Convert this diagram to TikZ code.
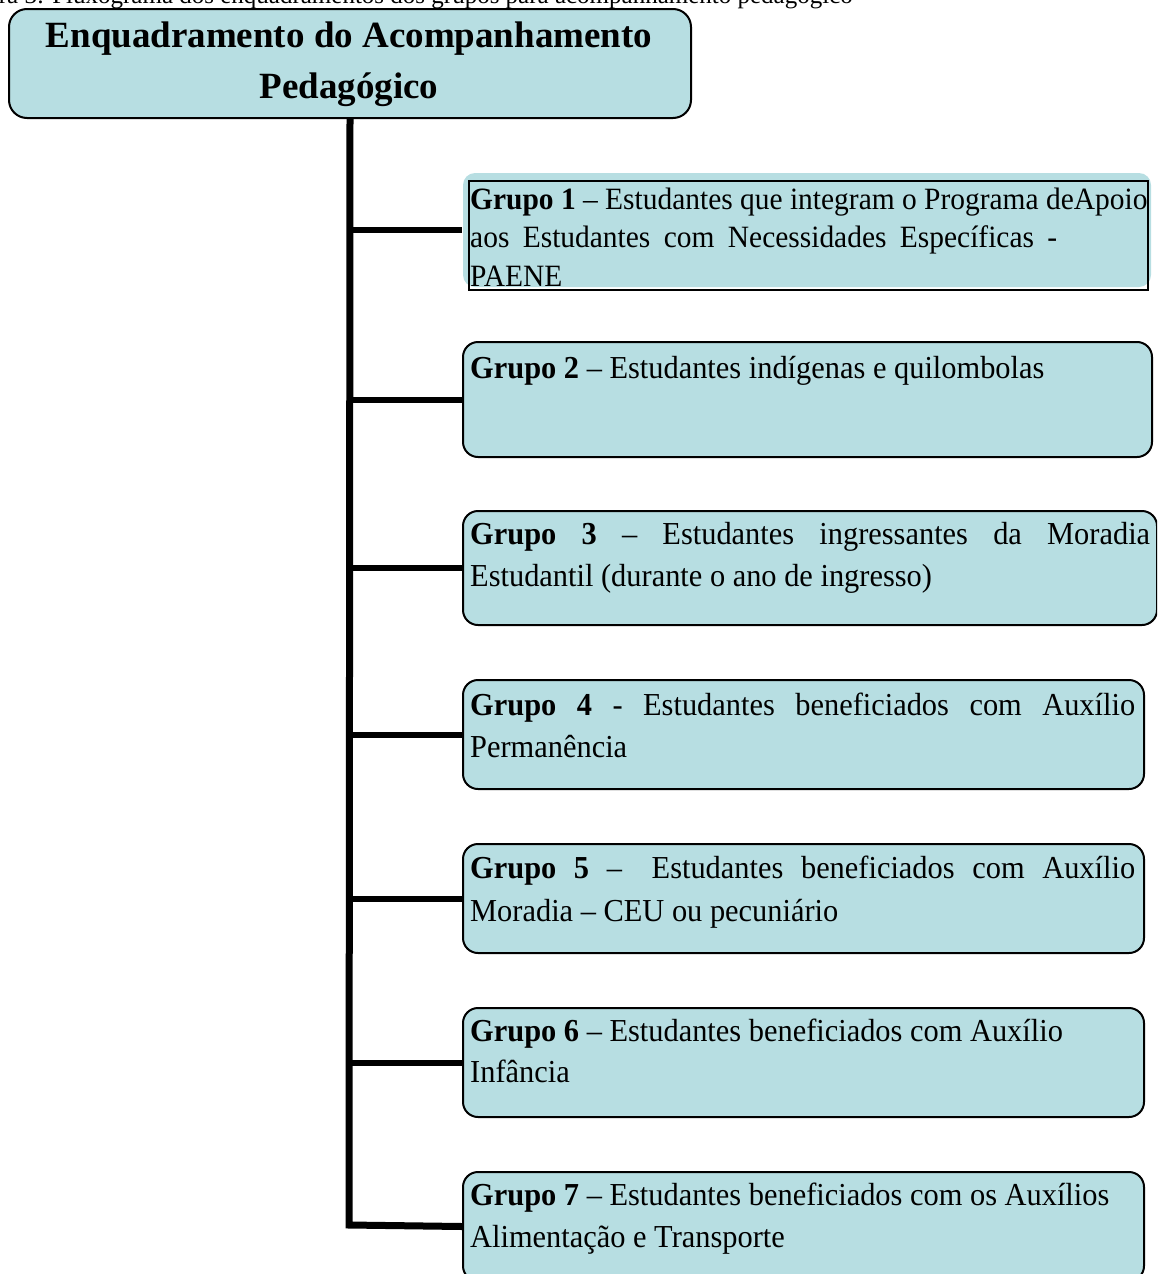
\documentclass[tikz,border=0pt]{standalone}
\usepackage{fontspec}
\setmainfont{Liberation Serif}
\newfontfamily\bodyfont{Liberation Serif}[FakeStretch=0.95]
\definecolor{boxfill}{RGB}{183,222,226}
\newcommand\tstrut{\rule{0pt}{25pt}}
\tikzset{
  grp/.style={draw=black, line width=2pt, fill=boxfill, rounded corners=15pt, inner sep=0pt, anchor=north west},
  link/.style={line width=6pt},
  trunk/.style={line width=7pt},
  txt/.style={anchor=north west, inner sep=0pt, align=left, font=\bodyfont\fontsize{32}{42}\selectfont},
}
\begin{document}
\begin{tikzpicture}[x=1pt,y=-1pt]
\useasboundingbox (0,0) rectangle (1157,1274);
\clip (0,0) rectangle (1157,1274);
% caption (cut off at top)
\node[anchor=base east, inner sep=0pt, font=\fontsize{25}{30}\selectfont] (cap) at (853,4) {Figura 3: Fluxograma dos enquadramentos dos grupos para acompanhamento pedagógico};
% title
\node[grp, rounded corners=18pt, minimum width=682pt, minimum height=109pt] (title) at (8,8) {};
\node[anchor=north, inner sep=0pt, align=center, font=\fontsize{37}{51}\selectfont\bfseries] (ttl) at (349,19) {\rule{0pt}{28pt}Enquadramento do Acompanhamento\\Pedagógico};
% group boxes
\node[grp, draw=none, rounded corners=12pt, minimum width=688pt, minimum height=114pt] (g1) at (462,172) {};
\node[draw=black, line width=2pt, inner sep=0pt, anchor=north west, minimum width=679pt, minimum height=109pt] (g1frame) at (468,180) {};
\node[grp, minimum width=689pt, minimum height=115pt] (g2) at (462,341) {};
\node[grp, minimum width=694pt, minimum height=114pt] (g3) at (462,510) {};
\node[grp, minimum width=681pt, minimum height=109pt] (g4) at (462,679) {};
\node[grp, minimum width=681pt, minimum height=109pt] (g5) at (462,843) {};
\node[grp, minimum width=681pt, minimum height=109pt] (g6) at (462,1007) {};
\node[grp, minimum width=681pt, minimum height=109pt] (g7) at (462,1171) {};
% connectors
\coordinate (tb) at (349,1225);
\draw[trunk] (title.south) -- (tb) -- (g7.west);
\foreach \g in {g1,g2,g3,g4,g5,g6} \draw[link] (\g.west -| tb) -- (\g.west);
% texts
\node[txt, font=\bodyfont\fontsize{31}{38.5}\selectfont] (t1) at (470,184) {\tstrut\textbf{Grupo 1} – Estudantes que integram o Programa deApoio\\
\makebox[587pt][s]{aos Estudantes com Necessidades Específicas -}\\
PAENE};
\node[txt] (t2) at (470,353) {\tstrut\textbf{Grupo 2} – Estudantes indígenas e quilombolas};
\node[txt] (t3) at (470,519) {\makebox[680pt][s]{\tstrut\textbf{Grupo 3} – Estudantes ingressantes da Moradia}\\
Estudantil (durante o ano de ingresso)};
\node[txt] (t4) at (470,690) {\makebox[665pt][s]{\tstrut\textbf{Grupo 4} - Estudantes beneficiados com Auxílio}\\
Permanência};
\node[txt, font=\bodyfont\fontsize{32}{43}\selectfont] (t5) at (470,853) {\makebox[665pt][s]{\tstrut\textbf{Grupo 5} –\hspace{12pt} Estudantes beneficiados com Auxílio}\\
Moradia – CEU ou pecuniário};
\node[txt, font=\bodyfont\fontsize{32}{41}\selectfont] (t6) at (470,1016) {\tstrut\textbf{Grupo 6} – Estudantes beneficiados com Auxílio\\
Infância};
\node[txt] (t7) at (470,1180) {\tstrut\textbf{Grupo 7} – Estudantes beneficiados com os Auxílios\\
Alimentação e Transporte};
\end{tikzpicture}
\end{document}
